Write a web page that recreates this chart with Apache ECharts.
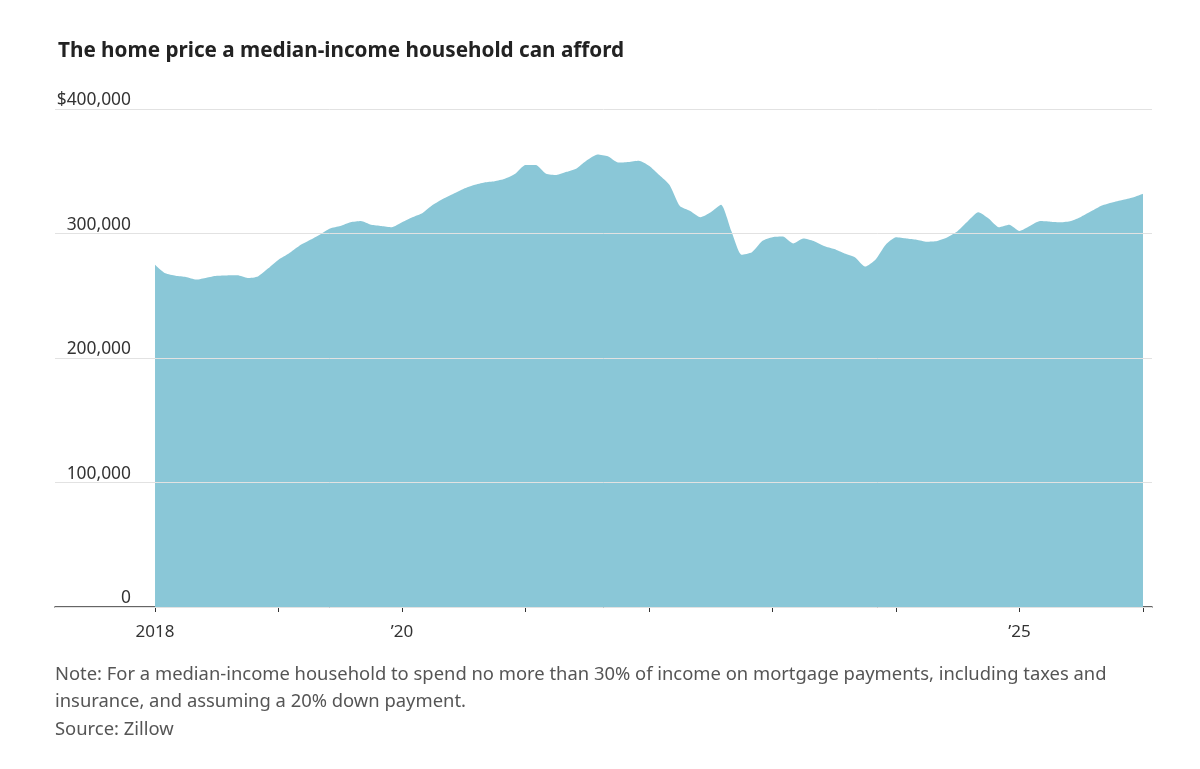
<!DOCTYPE html>
<html>
<head>
<meta charset="utf-8">
<script src="https://cdn.jsdelivr.net/npm/echarts@6/dist/echarts.min.js"></script>
<style>
html,body{margin:0;padding:0;background:#fff;}
#chart{width:1200px;height:769px;}
</style>
</head>
<body>
<div id="chart"></div>
<script>
// Monthly values, Jan 2018 – Jan 2026 (dollars)
const startYear = 2018;
const values = [
  275000, 268000, 266000, 265000, 263000, 264500, 266000, 266300, 266400, 264200, 265500, 272000,
  279000, 284000, 290000, 294500, 299000, 304000, 306000, 309000, 310000, 307000, 306000, 305000,
  309000, 313000, 316500, 323000, 328000, 332000, 336000, 339000, 341000, 342000, 344000, 348000,
  355000, 355000, 348000, 347000, 349500, 352500, 359000, 363500, 362000, 357000, 357500, 358500,
  354500, 347000, 339000, 322000, 318000, 313000, 317000, 323000, 302000, 283000, 285000, 294000,
  297000, 297500, 292000, 296000, 294000, 290000, 287500, 284000, 281000, 273500, 279000, 291000,
  297000, 296000, 295000, 293400, 294000, 297000, 302000, 310000, 317000, 312000, 305000, 307000,
  302000, 306000, 310000, 309500, 309000, 310000, 313500, 318000, 322500, 325000, 327000, 329000,
  332000
];
const tickYears = [2018, 2019, 2020, 2021, 2022, 2023, 2024, 2025, 2026];
const labelYears = [2018, 2020, 2025];

const seriesData = values.map((v, i) => [startYear + i / 12, v]);

const chart = echarts.init(document.getElementById('chart'));
chart.setOption({
  animation: false,
  backgroundColor: '#fff',
  title: {
    text: 'The home price a median-income household can afford',
    left: 53, top: 36,
    textStyle: { fontFamily: 'Noto Sans', fontWeight: 'bold', fontSize: 20.7, color: '#222' }
  },
  grid: { left: 55, right: 48, top: 109, bottom: 162 },
  xAxis: {
    type: 'value',
    min: 2017.19, max: 2026.073,
    axisLine: { show: true, lineStyle: { color: '#333', width: 1.5 } },
    axisTick: { show: true, customValues: tickYears, length: 5, lineStyle: { color: '#333', width: 1 } },
    axisLabel: {
      customValues: labelYears,
      formatter: v => v === 2018 ? '2018' : '\u2019' + String(Math.round(v)).slice(2),
      color: '#333', fontFamily: 'Noto Sans', fontSize: 17, margin: 17
    },
    splitLine: { show: false }
  },
  yAxis: {
    type: 'value',
    min: 0, max: 400000, interval: 100000,
    z: 5,
    axisLine: { show: false },
    axisTick: { show: false },
    axisLabel: {
      inside: true, align: 'right', verticalAlign: 'bottom', margin: 76,
      padding: [0, 0, 0, 0],
      formatter: v => v === 400000 ? '$400,000' : v.toLocaleString('en-US'),
      color: '#333', fontFamily: 'Noto Sans', fontSize: 17.4
    },
    splitLine: { show: true, lineStyle: { color: '#e2e2e2', width: 1 } }
  },
  series: [{
    type: 'line',
    data: seriesData,
    showSymbol: false,
    smooth: 0.2,
    lineStyle: { width: 0 },
    areaStyle: { color: '#8ac7d7', opacity: 1 },
    z: 2
  }],
  graphic: [
    { type: 'text', left: 55, top: 666, style: { text: 'Note: For a median-income household to spend no more than 30% of income on mortgage payments, including taxes and', fill: '#555', font: '18.4px "Noto Sans"' } },
    { type: 'text', left: 55, top: 693, style: { text: 'insurance, and assuming a 20% down payment.', fill: '#555', font: '18.4px "Noto Sans"' } },
    { type: 'text', left: 55, top: 721, style: { text: 'Source: Zillow', fill: '#555', font: '18.4px "Noto Sans"' } }
  ]
});
</script>
</body>
</html>
